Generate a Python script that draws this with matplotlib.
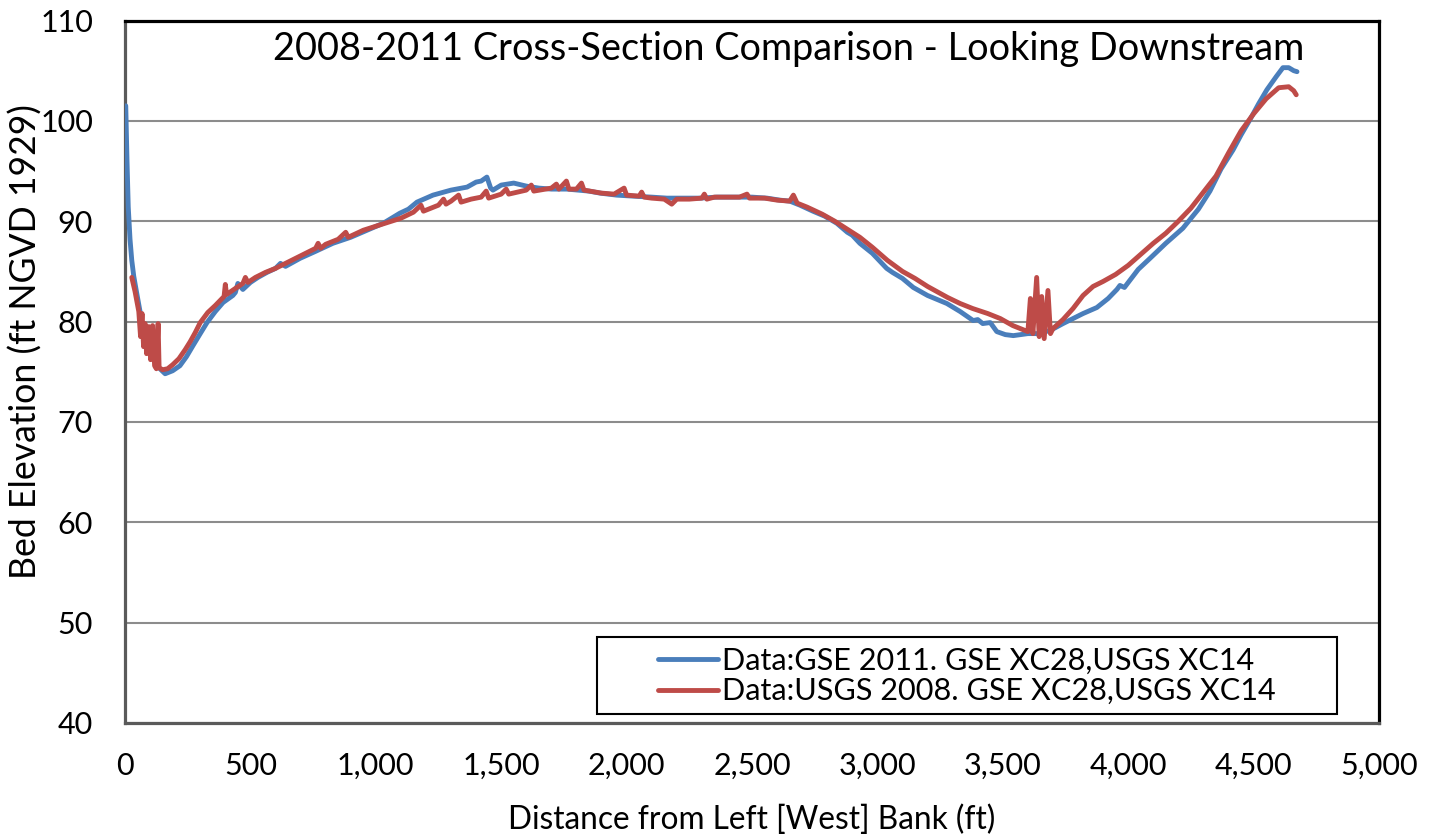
import matplotlib
matplotlib.use("Agg")
import matplotlib.pyplot as plt
from matplotlib.ticker import FuncFormatter
from matplotlib.patches import Rectangle

plt.rcParams['font.family'] = ['Lato', 'DejaVu Sans']

# ---------------- data ----------------
gse2011_x = [3, 8, 13, 20, 27, 35, 47, 60, 72, 90, 112, 135, 160, 190, 219, 245, 271, 300,
             327, 360, 391, 430, 440, 450, 470, 500, 530, 566, 600, 620, 640, 698, 760, 829,
             900, 965, 1030, 1096, 1130, 1164, 1228, 1300, 1364, 1400, 1420, 1443, 1458, 1467,
             1500, 1550, 1600, 1650, 1700, 1762, 1850, 1894, 1960, 2025, 2100, 2161, 2230, 2293,
             2360, 2424, 2500, 2560, 2611, 2651, 2691, 2743, 2790, 2838, 2880, 2900, 2930, 2980,
             3037, 3060, 3100, 3143, 3200, 3277, 3330, 3382, 3400, 3420, 3450, 3476, 3510, 3542,
             3600, 3636, 3688, 3740, 3820, 3875, 3920, 3955, 3967, 3985, 4040, 4087, 4150, 4218,
             4280, 4326, 4370, 4418, 4450, 4485, 4520, 4553, 4590, 4617, 4640, 4660, 4673]
gse2011_y = [101.5, 96.0, 91.4, 88.2, 86.1, 84.5, 82.8, 81.0, 79.4, 77.8, 76.4, 75.4, 74.8, 75.1,
             75.6, 76.5, 77.6, 78.8, 79.9, 81.0, 81.9, 82.6, 82.9, 83.8, 83.2, 83.9, 84.4, 84.9,
             85.3, 85.8, 85.5, 86.3, 87.0, 87.8, 88.4, 89.1, 89.8, 90.8, 91.2, 91.9, 92.6, 93.1,
             93.4, 93.9, 94.0, 94.4, 93.3, 93.1, 93.6, 93.8, 93.5, 93.3, 93.2, 93.2, 93.0, 92.8,
             92.6, 92.5, 92.4, 92.3, 92.3, 92.3, 92.4, 92.4, 92.4, 92.3, 92.1, 92.0, 91.6, 91.0,
             90.5, 89.8, 88.9, 88.6, 87.8, 86.8, 85.3, 84.9, 84.3, 83.4, 82.6, 81.8, 81.0, 80.1,
             80.2, 79.8, 79.9, 79.0, 78.7, 78.6, 78.8, 78.8, 79.1, 79.8, 80.8, 81.4, 82.3, 83.2,
             83.6, 83.4, 85.2, 86.3, 87.8, 89.3, 91.2, 93.0, 95.2, 97.1, 98.6, 100.1, 101.7,
             103.1, 104.4, 105.3, 105.3, 105.0, 104.9]

usgs2008_x = [27, 40, 55, 62, 68, 74, 80, 86, 95, 102,
              110, 118, 125, 132, 136, 150, 170, 190, 215, 240,
              260, 280, 300, 330, 360, 395, 400, 405, 440, 470,
              480, 490, 520, 560, 600, 640, 680, 720, 760, 770,
              780, 800, 850, 880, 890, 950, 1000, 1050, 1100, 1150,
              1180, 1190, 1250, 1270, 1280, 1300, 1330, 1340, 1380, 1420,
              1440, 1450, 1500, 1520, 1530, 1600, 1620, 1630, 1700, 1720,
              1730, 1760, 1770, 1800, 1820, 1830, 1900, 1950, 1990, 2000,
              2050, 2060, 2070, 2100, 2150, 2180, 2200, 2250, 2300, 2310,
              2320, 2350, 2400, 2450, 2480, 2490, 2550, 2600, 2650, 2665,
              2680, 2720, 2780, 2830, 2880, 2930, 2980, 3040, 3100, 3150,
              3200, 3280, 3330, 3380, 3440, 3490, 3540, 3580, 3600, 3610,
              3620, 3635, 3645, 3655, 3665, 3680, 3690, 3700, 3740, 3780,
              3820, 3860, 3900, 3950, 4000, 4050, 4100, 4150, 4200, 4250,
              4300, 4350, 4400, 4450, 4500, 4550, 4600, 4640, 4660, 4670]
usgs2008_y = [84.4, 83.0, 81.0, 78.5, 80.8, 77.5, 79.8, 76.8, 79.5, 76.2,
              79.6, 75.6, 75.3, 79.8, 75.4, 75.2, 75.3, 75.7, 76.3, 77.2,
              78.0, 78.9, 79.9, 80.9, 81.6, 82.5, 83.7, 82.7, 83.3, 83.8,
              84.4, 83.9, 84.4, 84.9, 85.3, 85.8, 86.3, 86.8, 87.3, 87.8,
              87.3, 87.7, 88.2, 88.9, 88.4, 89.1, 89.5, 89.9, 90.3, 90.9,
              91.6, 91.0, 91.6, 92.2, 91.7, 92.0, 92.6, 91.9, 92.2, 92.4,
              93.0, 92.3, 92.7, 93.2, 92.7, 93.1, 93.6, 93.0, 93.3, 93.7,
              93.2, 94.0, 93.2, 93.2, 93.8, 93.1, 92.8, 92.7, 93.3, 92.6,
              92.5, 92.9, 92.4, 92.3, 92.2, 91.7, 92.2, 92.2, 92.3, 92.7,
              92.2, 92.4, 92.4, 92.4, 92.7, 92.3, 92.3, 92.1, 92.0, 92.6,
              91.8, 91.4, 90.7, 90.0, 89.2, 88.4, 87.4, 86.1, 85.0, 84.3,
              83.5, 82.4, 81.8, 81.3, 80.8, 80.3, 79.6, 79.2, 79.0, 82.3,
              78.8, 84.4, 78.5, 82.5, 78.3, 83.1, 78.8, 79.3, 80.2, 81.3,
              82.6, 83.5, 84.0, 84.7, 85.6, 86.7, 87.8, 88.8, 90.0, 91.3,
              92.9, 94.5, 96.8, 99.0, 100.7, 102.2, 103.3, 103.4, 103.0, 102.6]

series_labels = ["Data:GSE 2011. GSE XC28,USGS XC14",
                 "Data:USGS 2008. GSE XC28,USGS XC14"]
title_text = "2008-2011 Cross-Section Comparison - Looking Downstream"
x_label = "Distance from Left [West] Bank (ft)"
y_label = "Bed Elevation (ft NGVD 1929)"
x_ticks = [0, 500, 1000, 1500, 2000, 2500, 3000, 3500, 4000, 4500, 5000]
y_ticks = [40, 50, 60, 70, 80, 90, 100, 110]

# ---------------- figure ----------------
W, H = 1442, 839
fig = plt.figure(figsize=(W / 100, H / 100), dpi=100)
fig.patch.set_facecolor('white')
ax = fig.add_axes([125 / W, 1 - 723 / H, (1379 - 125) / W, (723 - 20.5) / H])

BLUE = '#4A7EBB'
RED = '#BE4B48'
l1, = ax.plot(gse2011_x, gse2011_y, color=BLUE, lw=3.5, solid_joinstyle='round',
              solid_capstyle='round', zorder=3, label=series_labels[0])
l2, = ax.plot(usgs2008_x, usgs2008_y, color=RED, lw=3.5, solid_joinstyle='round',
              solid_capstyle='round', zorder=4, label=series_labels[1])

ax.set_xlim(0, 5000)
ax.set_ylim(40, 110)
ax.set_xticks(x_ticks)
ax.set_yticks(y_ticks)
ax.xaxis.set_major_formatter(FuncFormatter(lambda v, p: f"{int(v):,}"))
ax.yaxis.grid(True, color='#8c8c8c', lw=1.5, zorder=1)
ax.set_axisbelow(True)

for s in ['top', 'right']:
    ax.spines[s].set_color('black')
    ax.spines[s].set_linewidth(2.3)
for s in ['left', 'bottom']:
    ax.spines[s].set_color('#5a5a5a')
    ax.spines[s].set_linewidth(2.3)

fig.canvas.draw()
renderer = fig.canvas.get_renderer()


def fit_size(text, target_px, base=20):
    t = fig.text(0, 0, text, fontsize=base)
    bb = t.get_window_extent(renderer)
    t.remove()
    return base * target_px / bb.width


tick_fs = fit_size("5,000", 78)
title_fs = fit_size(title_text, 1033)
xl_fs = fit_size(x_label, 489)
yl_fs = fit_size(y_label, 475)
leg_fs = fit_size(series_labels[0], 531)

ax.tick_params(axis='both', length=0, labelsize=tick_fs, colors='black')
ax.tick_params(axis='y', pad=23)
ax.tick_params(axis='x', pad=21)

ax.text((789 - 125) / 1254, 1 - (49 - 20.5) / 702.5, title_text, transform=ax.transAxes,
        ha='center', va='center', fontsize=title_fs, color='black')
fig.text(752 / W, 1 - 820 / H, x_label, ha='center', va='center', fontsize=xl_fs)
fig.text(26 / W, 1 - 342 / H, y_label, ha='center', va='center', rotation=90, fontsize=yl_fs)

# legend frame + legend
ax.add_patch(Rectangle((597 / W, 1 - 714 / H), 740 / W, 77 / H, transform=fig.transFigure,
                       fill=True, facecolor='white', edgecolor='black', lw=1.5, zorder=5,
                       clip_on=False))
fs_px = leg_fs * 100 / 72
leg = ax.legend(handles=[l1, l2], loc='center left',
                bbox_to_anchor=(658 / W, 1 - 676 / H), bbox_transform=fig.transFigure,
                frameon=False, fontsize=leg_fs, borderpad=0, borderaxespad=0,
                handlelength=60 / fs_px, handletextpad=4 / fs_px, labelspacing=0.08)
leg.set_zorder(6)

fig.savefig("out.png", dpi=100, facecolor='white')
